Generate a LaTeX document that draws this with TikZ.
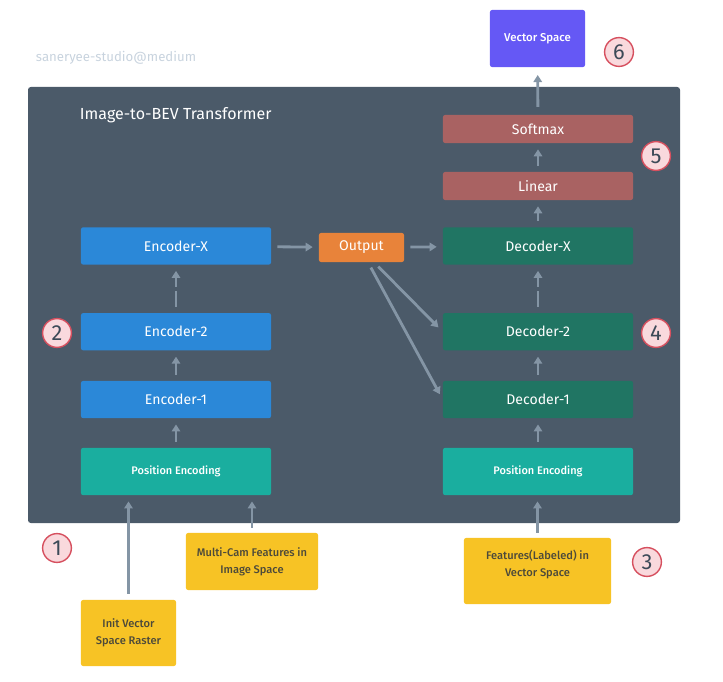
\documentclass[tikz,border=0pt]{standalone}
\usepackage{fontspec}
\setmainfont{Fira Sans}
\newfontfamily\medfont{Fira Sans Medium}
\usetikzlibrary{arrows.meta,positioning}

\definecolor{panelgray}{HTML}{4B5A69}
\definecolor{encblue}{HTML}{2B88D8}
\definecolor{decgreen}{HTML}{207563}
\definecolor{posteal}{HTML}{1AAE9F}
\definecolor{headred}{HTML}{A96262}
\definecolor{outorange}{HTML}{E8833A}
\definecolor{spacepurple}{HTML}{6558F5}
\definecolor{inyellow}{HTML}{F7C325}
\definecolor{intext}{HTML}{4D4A3A}
\definecolor{flowgray}{HTML}{8495A5}
\definecolor{marktext}{HTML}{3C4A58}
\definecolor{markpink}{HTML}{F9D9DD}
\definecolor{markred}{HTML}{D6505F}
\definecolor{watergray}{HTML}{C8D3DE}

\begin{document}
\begin{tikzpicture}[x=0.025cm,y=-0.025cm,
  box/.style={rounded corners=1.5pt, inner sep=0pt, minimum width=4.75cm,
    minimum height=0.93cm, text=white, font=\fontsize{10}{12}\selectfont},
  enc/.style={box, fill=encblue},
  dec/.style={box, fill=decgreen},
  posenc/.style={box, fill=posteal, minimum height=1.18cm,
    font=\medfont\fontsize{7.8}{9}\selectfont},
  head/.style={box, fill=headred, minimum height=0.7cm},
  intext/.style={align=center, text=intext, font=\medfont\fontsize{7.9}{12}\selectfont},
  inbox/.style={fill=inyellow, rounded corners=1.5pt, inner sep=0pt, intext},
  flow/.style={draw=flowgray, line width=2pt,
    -{Triangle[width=6pt,length=5pt]}, shorten <=4.3pt, shorten >=4.3pt},
  marker/.style={circle, fill=markpink, draw=markred, line width=1pt,
    minimum size=0.72cm, inner sep=0pt, text=marktext,
    font=\fontsize{15.5}{15.5}\selectfont}]

\useasboundingbox (0,0) rectangle (723,682);

% transformer panel
\fill[panelgray, rounded corners=2pt] (28,87) rectangle (680,523);
\node[anchor=west, text=watergray, font=\fontsize{9.4}{11}\selectfont]
  (credit) at (31,58) {saneryee-studio@medium};
\node[anchor=west, text=white, font=\fontsize{11.4}{13}\selectfont]
  (title) at (75,115) {Image-to-BEV Transformer};

% encoder stack
\node[posenc] (pe left) at (176,471.5) {Position Encoding};
\node[enc]    (enc 1) [above=0.73cm of pe left] {Encoder-1};
\node[enc]    (enc 2) [above=0.75cm of enc 1]   {Encoder-2};
\node[enc]    (enc x) [above=1.2cm of enc 2]    {Encoder-X};

\node[box, fill=outorange, minimum width=2.125cm, minimum height=0.725cm]
  (output) at (361.5,247.5) {Output};

% decoder stack
\node[posenc] (pe right) at (538,471.5) {Position Encoding};
\node[dec]    (dec 1) [above=0.73cm of pe right] {Decoder-1};
\node[dec]    (dec 2) [above=0.75cm of dec 1]    {Decoder-2};
\node[dec]    (dec x) [above=1.2cm of dec 2]     {Decoder-X};
\node[head]   (linear)  at (538,186)   {Linear};
\node[head]   (softmax) at (538,129)   {Softmax};
\node[box, fill=spacepurple, minimum width=2.375cm, minimum height=1.425cm,
  font=\medfont\fontsize{8.1}{10}\selectfont]
  (vspace) at (537.5,38.5) {Vector Space};

% inputs
\node[inbox, minimum width=3.3cm, minimum height=1.425cm]
  (mcam) at (252,561.5) {Multi-Cam Features in\\Image Space};
\node[inbox, minimum width=2.375cm, minimum height=1.65cm]
  (init) at (128.5,633) {Init Vector\\Space Raster};
\node[inbox, minimum width=3.675cm, minimum height=1.65cm,
  label={[intext, yshift=4.5pt]center:{Features(Labeled) in\\Vector Space}}]
  (feat) at (537.5,571) {};

% step markers
\node[marker] (m1) at (57,548)  {1};
\node[marker] (m2) at (57,333)  {2};
\node[marker] (m3) at (647,562) {3};
\node[marker] (m4) at (656,333) {4};
\node[marker] (m5) at (656,156) {5};
\node[marker] (m6) at (619,52)  {6};

% connections
\draw[flow] (init.north) -- (init.north |- pe left.south);
\draw[flow, shorten <=3.5pt] (mcam.north) -- (mcam.north |- pe left.south);
\draw[flow, shorten <=3.5pt] (feat.north) -- (feat.north |- pe right.south);
\draw[flow] (pe left) -- (enc 1);
\draw[flow] (enc 1) -- (enc 2);
\draw[flow, dash pattern=on 11.4pt off 2.8pt] (enc 2) -- (enc x);
\draw[flow] (enc x) -- (output);
\draw[flow] (output) -- (dec x);
\draw[flow] ([xshift=8.9pt]output.south) -- (dec 2.west);
\draw[flow] ([xshift=4.6pt]output.south) -- (dec 1.west);
\draw[flow] (pe right) -- (dec 1);
\draw[flow] (dec 1) -- (dec 2);
\draw[flow, dash pattern=on 11.4pt off 2.8pt] (dec 2) -- (dec x);
\draw[flow] (dec x) -- (linear);
\draw[flow] (linear) -- (softmax);
\draw[flow, shorten <=5.5pt, shorten >=5.5pt] (softmax) -- (vspace);
\end{tikzpicture}
\end{document}
